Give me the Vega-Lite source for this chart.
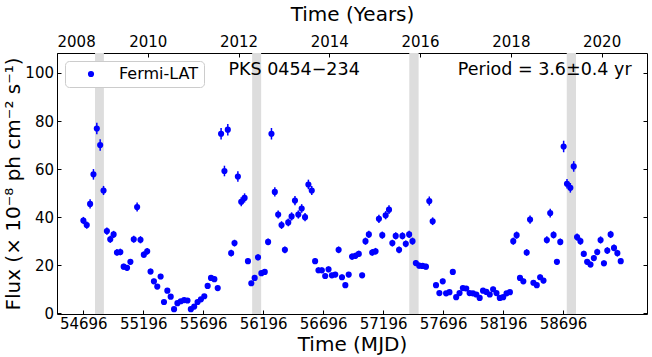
{
"$schema": "https://vega.github.io/schema/vega-lite/v6.json",
"width": 590, "height": 261,
"autosize": {"type": "none"},
"padding": {"left": 57, "top": 53, "right": 5, "bottom": 43},
"datasets": {
"lc": [
{"mjd":54697,"flux":38.6,"err":1.5},{"mjd":54725,"flux":36.7,"err":1.5},{"mjd":54753,"flux":45.5,"err":1.9},{"mjd":54781,"flux":57.8,"err":2.2},{"mjd":54809,"flux":76.9,"err":2.4},{"mjd":54837,"flux":70.0,"err":2.4},{"mjd":54865,"flux":51.1,"err":1.9},{"mjd":54893,"flux":34.2,"err":1.5},{"mjd":54921,"flux":30.8,"err":1.5},{"mjd":54949,"flux":32.8,"err":1.5},
{"mjd":54977,"flux":25.3,"err":1.4},{"mjd":55005,"flux":25.5,"err":1.4},{"mjd":55033,"flux":19.4,"err":1.2},{"mjd":55061,"flux":18.9,"err":1.2},{"mjd":55089,"flux":21.4,"err":1.2},{"mjd":55117,"flux":30.8,"err":1.5},{"mjd":55145,"flux":44.2,"err":1.9},{"mjd":55173,"flux":30.6,"err":1.5},{"mjd":55201,"flux":24.4,"err":1.3},{"mjd":55229,"flux":25.8,"err":1.4},
{"mjd":55257,"flux":17.4,"err":1.2},{"mjd":55285,"flux":13.3,"err":1.1},{"mjd":55313,"flux":11.1,"err":1.0},{"mjd":55341,"flux":15.3,"err":1.1},{"mjd":55369,"flux":4.7,"err":0.8},{"mjd":55397,"flux":9.4,"err":1.0},{"mjd":55425,"flux":6.9,"err":0.9},{"mjd":55453,"flux":1.7,"err":0.7},{"mjd":55481,"flux":4.2,"err":0.8},{"mjd":55509,"flux":5.0,"err":0.8},
{"mjd":55537,"flux":5.5,"err":0.8},{"mjd":55565,"flux":5.3,"err":0.8},{"mjd":55593,"flux":1.7,"err":0.7},{"mjd":55621,"flux":2.8,"err":0.7},{"mjd":55649,"flux":4.7,"err":0.8},{"mjd":55677,"flux":5.8,"err":0.8},{"mjd":55705,"flux":7.1,"err":0.9},{"mjd":55733,"flux":11.4,"err":1.0},{"mjd":55761,"flux":14.7,"err":1.1},{"mjd":55789,"flux":14.2,"err":1.1},
{"mjd":55817,"flux":10.5,"err":1.0},{"mjd":55845,"flux":74.7,"err":2.4},{"mjd":55873,"flux":59.2,"err":2.2},{"mjd":55901,"flux":76.4,"err":2.4},{"mjd":55929,"flux":25.0,"err":1.4},{"mjd":55957,"flux":29.2,"err":1.4},{"mjd":55985,"flux":56.9,"err":2.2},{"mjd":56013,"flux":46.4,"err":1.9},{"mjd":56041,"flux":48.0,"err":1.9},{"mjd":56069,"flux":21.7,"err":1.2},
{"mjd":56097,"flux":12.5,"err":1.0},{"mjd":56125,"flux":14.7,"err":1.1},{"mjd":56153,"flux":23.3,"err":1.3},{"mjd":56181,"flux":16.7,"err":1.1},{"mjd":56209,"flux":17.2,"err":1.1},{"mjd":56237,"flux":29.7,"err":1.4},{"mjd":56265,"flux":74.7,"err":2.4},{"mjd":56293,"flux":50.5,"err":1.9},{"mjd":56321,"flux":41.1,"err":1.7},{"mjd":56349,"flux":36.7,"err":1.6},
{"mjd":56377,"flux":26.4,"err":1.4},{"mjd":56405,"flux":37.8,"err":1.6},{"mjd":56433,"flux":40.3,"err":1.7},{"mjd":56461,"flux":46.9,"err":1.9},{"mjd":56489,"flux":41.1,"err":1.7},{"mjd":56517,"flux":43.6,"err":1.8},{"mjd":56545,"flux":40.0,"err":1.7},{"mjd":56573,"flux":53.6,"err":2.0},{"mjd":56601,"flux":51.1,"err":1.9},{"mjd":56629,"flux":21.7,"err":1.2},
{"mjd":56657,"flux":17.9,"err":1.2},{"mjd":56685,"flux":17.9,"err":1.2},{"mjd":56713,"flux":15.5,"err":1.1},{"mjd":56741,"flux":18.3,"err":1.2},{"mjd":56769,"flux":15.8,"err":1.1},{"mjd":56797,"flux":16.1,"err":1.1},{"mjd":56825,"flux":26.4,"err":1.4},{"mjd":56853,"flux":15.0,"err":1.1},{"mjd":56881,"flux":11.7,"err":1.0},{"mjd":56909,"flux":16.1,"err":1.1},
{"mjd":56937,"flux":23.6,"err":1.3},{"mjd":56965,"flux":23.9,"err":1.3},{"mjd":56993,"flux":24.7,"err":1.3},{"mjd":57021,"flux":15.8,"err":1.1},{"mjd":57049,"flux":30.0,"err":1.5},{"mjd":57077,"flux":32.8,"err":1.5},{"mjd":57105,"flux":25.3,"err":1.4},{"mjd":57133,"flux":25.8,"err":1.4},{"mjd":57161,"flux":39.3,"err":1.7},{"mjd":57189,"flux":32.5,"err":1.5},
{"mjd":57217,"flux":40.8,"err":1.7},{"mjd":57245,"flux":43.1,"err":1.8},{"mjd":57273,"flux":29.2,"err":1.4},{"mjd":57301,"flux":32.2,"err":1.5},{"mjd":57329,"flux":26.4,"err":1.4},{"mjd":57357,"flux":32.2,"err":1.5},{"mjd":57385,"flux":28.9,"err":1.4},{"mjd":57413,"flux":32.8,"err":1.5},{"mjd":57441,"flux":30.0,"err":1.5},{"mjd":57469,"flux":20.9,"err":1.2},
{"mjd":57497,"flux":19.8,"err":1.2},{"mjd":57525,"flux":19.7,"err":1.2},{"mjd":57553,"flux":19.4,"err":1.2},{"mjd":57581,"flux":46.7,"err":1.9},{"mjd":57609,"flux":38.3,"err":1.6},{"mjd":57637,"flux":11.7,"err":1.0},{"mjd":57665,"flux":8.4,"err":0.9},{"mjd":57693,"flux":13.3,"err":1.1},{"mjd":57721,"flux":8.3,"err":0.9},{"mjd":57749,"flux":8.8,"err":0.9},
{"mjd":57777,"flux":17.2,"err":1.1},{"mjd":57805,"flux":6.7,"err":0.9},{"mjd":57833,"flux":8.4,"err":0.9},{"mjd":57861,"flux":10.5,"err":1.0},{"mjd":57889,"flux":10.3,"err":1.0},{"mjd":57917,"flux":8.4,"err":0.9},{"mjd":57945,"flux":8.3,"err":0.9},{"mjd":57973,"flux":7.8,"err":0.9},{"mjd":58001,"flux":6.4,"err":0.9},{"mjd":58029,"flux":9.4,"err":1.0},
{"mjd":58057,"flux":8.9,"err":0.9},{"mjd":58085,"flux":7.8,"err":0.9},{"mjd":58113,"flux":10.0,"err":1.0},{"mjd":58141,"flux":8.4,"err":0.9},{"mjd":58169,"flux":6.4,"err":0.9},{"mjd":58197,"flux":6.7,"err":0.9},{"mjd":58225,"flux":8.3,"err":0.9},{"mjd":58253,"flux":8.8,"err":0.9},{"mjd":58281,"flux":30.0,"err":1.5},{"mjd":58309,"flux":32.5,"err":1.5},
{"mjd":58337,"flux":14.7,"err":1.1},{"mjd":58365,"flux":13.3,"err":1.1},{"mjd":58393,"flux":25.3,"err":1.4},{"mjd":58421,"flux":39.0,"err":1.7},{"mjd":58449,"flux":12.7,"err":1.0},{"mjd":58477,"flux":11.7,"err":1.0},{"mjd":58505,"flux":15.0,"err":1.1},{"mjd":58533,"flux":13.6,"err":1.1},{"mjd":58561,"flux":30.5,"err":1.5},{"mjd":58589,"flux":41.7,"err":1.8},
{"mjd":58617,"flux":32.6,"err":1.5},{"mjd":58645,"flux":21.4,"err":1.2},{"mjd":58673,"flux":29.7,"err":1.4},{"mjd":58701,"flux":69.4,"err":2.4},{"mjd":58729,"flux":53.9,"err":2.0},{"mjd":58757,"flux":52.2,"err":2.0},{"mjd":58785,"flux":61.1,"err":2.2},{"mjd":58813,"flux":31.7,"err":1.5},{"mjd":58841,"flux":30.0,"err":1.5},{"mjd":58869,"flux":24.7,"err":1.3},
{"mjd":58897,"flux":21.4,"err":1.2},{"mjd":58925,"flux":20.3,"err":1.2},{"mjd":58953,"flux":23.0,"err":1.3},{"mjd":58981,"flux":25.5,"err":1.4},{"mjd":59009,"flux":30.5,"err":1.5},{"mjd":59037,"flux":20.8,"err":1.2},{"mjd":59065,"flux":26.1,"err":1.4},{"mjd":59093,"flux":32.8,"err":1.5},{"mjd":59121,"flux":27.2,"err":1.4},{"mjd":59149,"flux":25.0,"err":1.4},
{"mjd":59177,"flux":21.7,"err":1.2}
],
"bands": [
{"start":54794,"end":54868},{"start":56104,"end":56179},{"start":57414,"end":57492},{"start":58727,"end":58804}
],
"years": [{"yr":2008}]
},
"layer": [
{
"layer": [
{
"data": {"name": "bands"},
"mark": {"type": "rect", "color": "#dddddd"},
"encoding": {
"x": {"field": "start", "type": "quantitative", "scale": {"domain": [54477, 59396], "nice": false, "zero": false},
"axis": {"values": [54696,55196,55696,56196,56696,57196,57696,58196,58696], "format": "d", "title": "Time (MJD)", "labelPadding": 6, "titlePadding": 3}},
"x2": {"field": "end"}
}
},
{
"data": {"name": "lc"},
"mark": {"type": "errorbar", "color": "#0000ff", "thickness": 1.5},
"encoding": {
"x": {"field": "mjd", "type": "quantitative"},
"y": {"field": "flux", "type": "quantitative", "scale": {"domain": [-0.3, 108.3], "nice": false, "zero": false},
"axis": {"values": [0,20,40,60,80,100], "title": "Flux (× 10⁻⁸ ph cm⁻² s⁻¹)", "labelPadding": 7.5, "titlePadding": 1}},
"yError": {"field": "err"}
}
},
{
"data": {"name": "lc"},
"mark": {"type": "point", "filled": true, "size": 38, "opacity": 1},
"encoding": {
"x": {"field": "mjd", "type": "quantitative"},
"y": {"field": "flux", "type": "quantitative"},
"color": {"datum": "Fermi-LAT", "type": "nominal", "scale": {"range": ["#0000ff"]}, "legend": {"title": null}}
}
},
{
"data": {"values": [{}]},
"mark": {"type": "text", "fontSize": 17.5, "font": "DejaVu Sans", "align": "center", "baseline": "middle", "color": "black"},
"encoding": {
"x": {"datum": 56454, "type": "quantitative"},
"y": {"datum": 101.1, "type": "quantitative"},
"text": {"value": "PKS 0454−234"}
}
},
{
"data": {"values": [{}]},
"mark": {"type": "text", "fontSize": 17.5, "font": "DejaVu Sans", "align": "center", "baseline": "middle", "color": "black"},
"encoding": {
"x": {"datum": 58543, "type": "quantitative"},
"y": {"datum": 101.1, "type": "quantitative"},
"text": {"value": "Period = 3.6±0.4 yr"}
}
}
]
},
{
"data": {"name": "years"},
"mark": {"type": "point", "opacity": 0},
"encoding": {
"x": {"field": "yr", "type": "quantitative", "scale": {"domain": [2008, 2021], "nice": false, "zero": false},
"axis": {"orient": "top", "values": [2008,2010,2012,2014,2016,2018,2020], "format": "d", "title": "Time (Years)", "labelPadding": 7.3, "titlePadding": 10}},
"y": {"datum": 0, "type": "quantitative", "scale": {"domain": [-0.3, 108.3], "nice": false, "zero": false},
"axis": {"orient": "right", "values": [0,20,40,60,80,100], "labels": false, "title": null}}
}
}
],
"resolve": {"scale": {"x": "independent", "y": "independent"}},
"config": {
"font": "DejaVu Sans",
"view": {"stroke": "black", "strokeWidth": 1},
"axis": {"domain": false, "grid": false, "ticks": true, "tickSize": -4, "tickColor": "black", "tickWidth": 1,
"labelFont": "DejaVu Sans", "labelFontSize": 15, "labelColor": "black",
"titleFont": "DejaVu Sans", "titleFontSize": 20, "titleFontWeight": "normal", "titleColor": "black"},
"legend": {"orient": "top-left", "offset": 8, "strokeColor": "#cccccc", "fillColor": "white", "cornerRadius": 4, "padding": 5,
"labelFont": "DejaVu Sans", "labelFontSize": 16, "labelColor": "black", "symbolSize": 38, "symbolOffset": 13, "labelOffset": 20, "symbolType": "circle"}
}
}
